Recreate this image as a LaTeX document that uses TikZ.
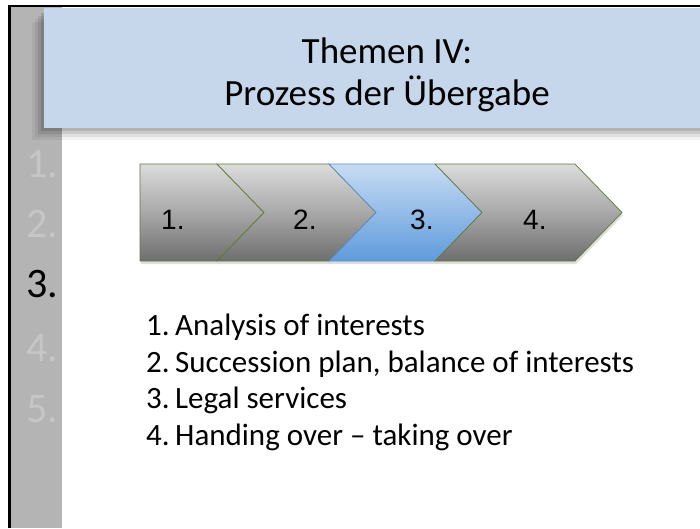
\documentclass[tikz,border=0pt]{standalone}
\usepackage{fontspec}
\setmainfont{Carlito}
\newfontfamily\arialfont{Liberation Sans}
\usetikzlibrary{positioning}

\definecolor{sidebar}{HTML}{B4B4B4}
\definecolor{sidenum}{HTML}{C6C6C6}
\definecolor{titlefill}{HTML}{C6D7EC}
\definecolor{chevtop}{HTML}{DCDCDC}
\definecolor{chevmid}{HTML}{A8A8A8}
\definecolor{chevbot}{HTML}{6E6E6E}
\definecolor{chevline}{HTML}{5E7B36}
\definecolor{bluetop}{HTML}{C8DCF2}
\definecolor{bluemid}{HTML}{93BBE8}
\definecolor{bluebot}{HTML}{5E9BDC}
\definecolor{blueline}{HTML}{5A8CC8}

% chevron outline: left x, top right x
\newcommand{\chevpath}[2]{(#1,164) -- (#2,164) -- (#2+47,212.5) -- (#2,261) -- (#1,261) -- (#1+47,212.5) -- cycle}

\begin{document}
\begin{tikzpicture}[
      x=1pt, y=-1pt,
      chev/.style={draw=chevline, line width=0.7pt, top color=chevtop, bottom color=chevbot, middle color=chevmid},
      chevblue/.style={draw=blueline, line width=0.7pt, top color=bluetop, bottom color=bluebot, middle color=bluemid},
      chevshadow/.style={fill=black, opacity=0.13, shift={(1pt,-3pt)}},
      chevlabel/.style={anchor=base west, inner sep=0pt, font=\arialfont\fontsize{28}{32}\selectfont},
      sidelabel/.style={anchor=base west, inner sep=0pt, text=sidenum, font=\fontsize{42}{46}\selectfont},
      titletext/.style={anchor=base, inner sep=0pt, font=\fontsize{37}{42}\selectfont},
      listitem/.style={anchor=base west, inner sep=0pt, font=\fontsize{31}{36}\selectfont}
    ]
    \useasboundingbox (0,0) rectangle (700,528);
    \fill[white] (0,0) rectangle (700,528);

    % left bar and frame
    \fill[sidebar] (10,6) rectangle (62,528);
    \draw[line width=2.5pt] (9.5,528) -- (9.5,6) -- (700,6);

    % title bar with soft shadow
    \foreach \d/\o in {12/0.05, 9/0.07, 6/0.09, 3/0.12}
      \fill[black, opacity=\o] (44-\d,10+\d) rectangle (700,128+\d);
    \fill[titlefill] (44,8) rectangle (700,128);
    \node[titletext] (title1) at (387,63) {Themen IV:};
    \node[titletext] (title2) at (387,105) {Prozess der Übergabe};

    % chapter numbers
    \node[sidelabel] (side1) at (26,177) {1.};
    \node[sidelabel] (side2) at (26,237) {2.};
    \node[sidelabel, text=black] (side3) at (26,297) {3.};
    \node[sidelabel] (side4) at (26,361) {4.};
    \node[sidelabel] (side5) at (26,422) {5.};

    % process chevrons
    \fill[chevshadow] (140,164) -- (217,164) -- (264,212.5) -- (217,261) -- (140,261) -- cycle;
    \fill[chevshadow] \chevpath{217}{329};
    \fill[chevshadow] \chevpath{329}{435};
    \fill[chevshadow] \chevpath{435}{575};
    \path[chev] (140,164) -- (217,164) -- (264,212.5) -- (217,261) -- (140,261) -- cycle;
    \path[chev] \chevpath{217}{329};
    \path[chevblue] \chevpath{329}{435};
    \path[chev] \chevpath{435}{575};
    \node[chevlabel] (step1) at (161,229) {1.};
    \node[chevlabel] (step2) at (293,229) {2.};
    \node[chevlabel] (step3) at (410,229) {3.};
    \node[chevlabel] (step4) at (523,229) {4.};

    % steps of the handover
    \node[listitem] (item1) at (146,335) {\makebox[29pt][l]{1.}Analysis of interests};
    \node[listitem] (item2) at (146,372) {\makebox[29pt][l]{2.}Succession plan, balance of interests};
    \node[listitem] (item3) at (146,408) {\makebox[29pt][l]{3.}Legal services};
    \node[listitem] (item4) at (146,445) {\makebox[29pt][l]{4.}Handing over – taking over};
  \end{tikzpicture}
\end{document}
